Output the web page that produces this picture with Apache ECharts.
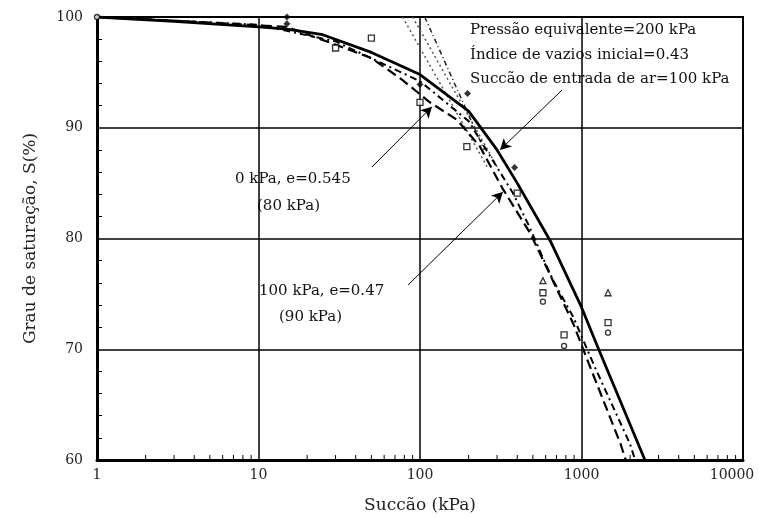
<!DOCTYPE html>
<html>
<head>
<meta charset="utf-8">
<script src="https://cdn.jsdelivr.net/npm/echarts@6/dist/echarts.min.js"></script>
<style>html,body{margin:0;padding:0;background:#fff;}#c{width:759px;height:519px;}</style>
</head>
<body>
<div id="c"></div>
<script>
// Curves (suction kPa, saturation %)
const solidCurve = [[1,100],[3,99.6],[10,99.1],[15,98.9],[25,98.4],[50,96.8],[100,94.8],[200,91.5],[300,88],[400,85],[640,79.8],[1000,73.8],[1260,70.2],[2470,60]];
const dashedCurve = [[1,100],[5,99.5],[15,99.1],[30,97.5],[50,96.3],[78,94.3],[115,92.3],[170,90.7],[235,88.3],[322,84.6],[480,80.5],[650,76.5],[890,72.3],[1110,68.7],[1740,61.5],[1880,60]];
const dashDotCurve = [[1,100],[10,99.3],[30,97.8],[100,94.2],[200,90.6],[376,84.1],[478,81],[575,78.3],[668,76.2],[890,72.9],[1200,68.5],[1990,61.5],[2150,60]];
const tangentA = [[78,100],[260,86.5]];
const tangentB = [[90,100],[300,86.5]];
const tangentC = [[107,100],[250,88]];
// Measured points
const filledPts = [[15,100],[15,99.4],[100,93.9],[197,93.1],[385,86.4]];
const squarePts = [[30,97.2],[50,98.1],[100,92.3],[195,88.3],[400,84.1],[577,75.1],[780,71.3],[1460,72.4]];
const circlePts = [[1,100],[577,74.3],[780,70.3],[1460,71.5]];
const trianglePts = [[577,76.2],[1460,75.1]];
// Axis ticks
const xMinorTicks = [2,3,4,5,6,7,8,9,20,30,40,50,60,70,80,90,200,300,400,500,600,700,800,900,2000,3000,4000,5000,6000,7000,8000,9000];
// Annotation arrows [from, to]
const arrows = [
  [[50.4,86.45],[118.6,91.9]],
  [[84.3,75.8],[326,84.2]],
  [[757,93.4],[313,88.0]]
];

const FONT = '"DejaVu Serif", "Liberation Serif", serif';
const chart = echarts.init(document.getElementById('c'));
const lineBase = {type:'line', showSymbol:false, symbol:'none', silent:true, z:3};
chart.setOption({
  animation:false,
  backgroundColor:'#fff',
  grid:{left:97, right:16, top:17, bottom:59, show:true, borderColor:'#000', borderWidth:2, backgroundColor:'transparent', containLabel:false, outerBoundsMode:'none'},
  xAxis:{
    type:'log', logBase:10, min:1, max:10000,
    name:'Succão (kPa)', nameLocation:'middle', nameGap:37,
    nameTextStyle:{fontFamily:FONT, fontSize:17, color:'#222'},
    axisLine:{lineStyle:{color:'#000', width:3}},
    axisTick:{show:false},
    axisLabel:{fontFamily:FONT, fontSize:14, color:'#222', margin:8,
      formatter:function(v){const s=String(Math.round(v)); return v>=9999 ? '{m|'+s+'}' : s;},
      rich:{m:{fontFamily:FONT, fontSize:14, color:'#222', padding:[0,22,0,0]}}},
    splitLine:{show:true, lineStyle:{color:'#000', width:1.5}},
    minorTick:{show:false}, minorSplitLine:{show:false}
  },
  yAxis:{
    type:'value', min:60, max:100, interval:10,
    name:'Grau de saturação, S(%)', nameLocation:'middle', nameGap:58, nameRotate:90,
    nameTextStyle:{fontFamily:FONT, fontSize:17, color:'#222'},
    axisLine:{show:true, lineStyle:{color:'#000', width:3}},
    axisTick:{show:false, inside:true},
    minorTick:{show:true, splitNumber:5, length:5, lineStyle:{color:'#000', width:1}},
    axisLabel:{fontFamily:FONT, fontSize:14, color:'#222', margin:14},
    splitLine:{show:true, lineStyle:{color:'#000', width:1.5}}
  },
  series:[
    Object.assign({}, lineBase, {data:tangentA, lineStyle:{color:'#555', width:1.5, type:[2,3]}}),
    Object.assign({}, lineBase, {data:tangentB, lineStyle:{color:'#555', width:1.5, type:[2,3]}}),
    Object.assign({}, lineBase, {data:tangentC, lineStyle:{color:'#222', width:1.5, type:[5,3,1,3]}}),
    Object.assign({}, lineBase, {data:dashedCurve, lineStyle:{color:'#000', width:2.2, type:[10,5]}}),
    Object.assign({}, lineBase, {data:dashDotCurve, lineStyle:{color:'#000', width:2, type:[7,4,2,4]}}),
    Object.assign({}, lineBase, {data:solidCurve, lineStyle:{color:'#000', width:2.8, type:'solid'},
      markLine:{silent:true, symbol:['none','arrow'], symbolSize:[9,11], label:{show:false},
        lineStyle:{color:'#000', width:1, type:'solid'},
        data: arrows.map(a => [{coord:a[0]},{coord:a[1]}])}
    }),
    {type:'scatter', data:filledPts, symbol:'diamond', symbolSize:7, itemStyle:{color:'#000'}, z:5},
    {type:'scatter', data:squarePts, symbol:'rect', symbolSize:6, itemStyle:{color:'#fff', borderColor:'#000', borderWidth:1.3}, z:5},
    {type:'scatter', data:circlePts, symbol:'circle', symbolSize:5, itemStyle:{color:'#fff', borderColor:'#000', borderWidth:1.3}, z:5},
    {type:'scatter', data:trianglePts, symbol:'triangle', symbolSize:6, itemStyle:{color:'#fff', borderColor:'#000', borderWidth:1.3}, z:5},
    {type:'custom', data:xMinorTicks.map(v=>[v,60]), silent:true, z:6,
      renderItem:function(params, api){
        const p = api.coord([api.value(0), api.value(1)]);
        return {type:'line', shape:{x1:p[0], y1:p[1], x2:p[0], y2:p[1]-5}, style:{stroke:'#000', lineWidth:1}};
      }}
  ],
  graphic:[
    {type:'text', left:470, top:23, style:{text:'Pressão equivalente=200 kPa', font:'15px '+FONT, fill:'#111'}},
    {type:'text', left:470, top:48, style:{text:'Índice de vazios inicial=0.43', font:'15px '+FONT, fill:'#111'}},
    {type:'text', left:470, top:72, style:{text:'Succão de entrada de ar=100 kPa', font:'15px '+FONT, fill:'#111'}},
    {type:'text', left:235, top:172, style:{text:'0 kPa, e=0.545', font:'15px '+FONT, fill:'#111'}},
    {type:'text', left:257, top:199, style:{text:'(80 kPa)', font:'15px '+FONT, fill:'#111'}},
    {type:'text', left:259, top:284, style:{text:'100 kPa, e=0.47', font:'15px '+FONT, fill:'#111'}},
    {type:'text', left:279, top:310, style:{text:'(90 kPa)', font:'15px '+FONT, fill:'#111'}}
  ]
});
</script>
</body>
</html>
